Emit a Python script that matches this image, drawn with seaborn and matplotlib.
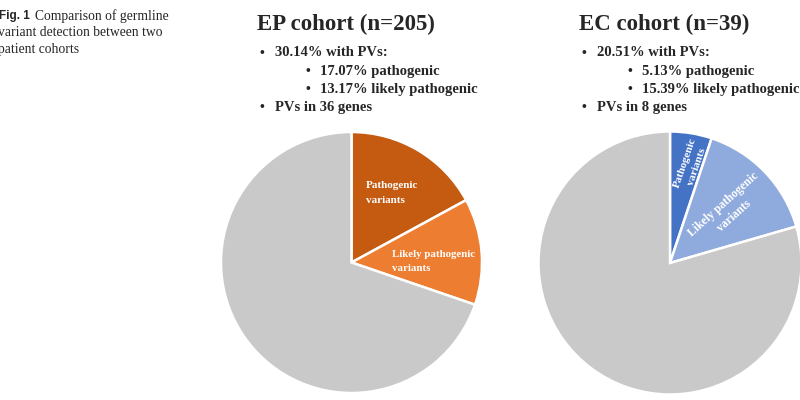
"""
Germline variant detection in two patient cohorts, drawn as two pie charts.
"""

import matplotlib

matplotlib.use("Agg")

import matplotlib.pyplot as plt
import seaborn as sns


# -----------------------------
# 1. Chart data
# -----------------------------

SLICE_NAMES = ["Pathogenic", "Likely pathogenic", "No PV"]

EP_TITLE = "EP cohort (n=205)"
EP_SHARES = [17.07, 13.17, 69.76]
EP_BULLETS = ["30.14% with PVs:", "17.07% pathogenic", "13.17% likely pathogenic", "PVs in 36 genes"]

EC_TITLE = "EC cohort (n=39)"
EC_SHARES = [5.13, 15.39, 79.48]
EC_BULLETS = ["20.51% with PVs:", "5.13% pathogenic", "15.39% likely pathogenic", "PVs in 8 genes"]

CAPTION_LINES = ["Comparison of germline", "variant detection between two", "patient cohorts"]

EP_COLORS = ["#C55A11", "#ED7D31", "#C9C9C9"]
EC_COLORS = ["#4472C4", "#8FAADC", "#C9C9C9"]

SERIF = ["Liberation Serif", "DejaVu Serif"]
W, H = 800, 400


def px_axes(fig, left, top, width, height):
    """Add axes placed in pixel coordinates measured from the top-left corner."""
    return fig.add_axes([left / W, (H - top - height) / H, width / W, height / H])


def draw_pie(fig, cx, cy, r, shares, colors):
    ax = px_axes(fig, cx - r, cy - r, 2 * r, 2 * r)
    ax.pie(
        shares,
        colors=colors,
        startangle=90,
        counterclock=False,
        wedgeprops={"edgecolor": "white", "linewidth": 1.8},
    )
    ax.set_xlim(-1, 1)
    ax.set_ylim(-1, 1)
    ax.set_aspect("equal")
    ax.axis("off")
    return ax


def draw_text_block(fig, x0, title, bullets):
    """Title and the bullet list above a pie, positions in pixels."""
    fig.text(x0 / W, 1 - 24 / H, title, family=SERIF, weight="bold",
             fontsize=16.5, va="center", ha="left")
    rows = [(0, 53), (1, 72), (1, 89.5), (0, 108)]
    for text, (level, y) in zip(bullets, rows):
        bx = x0 + 3 + 45 * level
        fig.text(bx / W, 1 - y / H, "\u2022", family=SERIF, weight="bold",
                 fontsize=10, va="center", ha="left")
        fig.text((bx + 15) / W, 1 - y / H, text, family=SERIF, weight="bold",
                 fontsize=10.5, va="center", ha="left")


# -----------------------------
# 2. Figure
# -----------------------------

sns.set_theme(style="white")
plt.rcParams["font.family"] = SERIF

fig = plt.figure(figsize=(8, 4), dpi=100, facecolor="white")

# Caption on the left, partly cut by the page edge as in the source page.
fig.text(-1 / W, 1 - 16 / H, "Fig. 1", family=["Liberation Sans", "DejaVu Sans"],
         weight="bold", fontsize=8.5, va="center", ha="left")
fig.text(35 / W, 1 - 16 / H, CAPTION_LINES[0], fontsize=9.8, va="center", ha="left")
fig.text(-2 / W, 1 - 33 / H, CAPTION_LINES[1], fontsize=9.8, va="center", ha="left")
fig.text(-2 / W, 1 - 49 / H, CAPTION_LINES[2], fontsize=9.8, va="center", ha="left")

# EP cohort
draw_text_block(fig, 257, EP_TITLE, EP_BULLETS)
ax_ep = draw_pie(fig, 351.5, 262.5, 130.5, EP_SHARES, EP_COLORS)
ax_ep.text(0.11, 0.53, "Pathogenic\nvariants", color="white", weight="bold",
           fontsize=8, ha="left", va="center", linespacing=1.9)
ax_ep.text(0.31, 0.01, "Likely pathogenic\nvariants", color="white", weight="bold",
           fontsize=7.8, ha="left", va="center", linespacing=1.75)

# EC cohort
draw_text_block(fig, 579, EC_TITLE, EC_BULLETS)
ax_ec = draw_pie(fig, 670, 263, 131.5, EC_SHARES, EC_COLORS)
ax_ec.text(0.16, 0.75, "Pathogenic\nvariants", color="white", weight="bold",
           fontsize=8, ha="center", va="center", rotation=71,
           rotation_mode="anchor", linespacing=1.45)
ax_ec.text(0.45, 0.40, "Likely pathogenic\nvariants", color="white", weight="bold",
           fontsize=8.5, ha="center", va="center", rotation=42,
           rotation_mode="anchor", linespacing=1.45)

fig.savefig("out.png", dpi=100, facecolor="white")
